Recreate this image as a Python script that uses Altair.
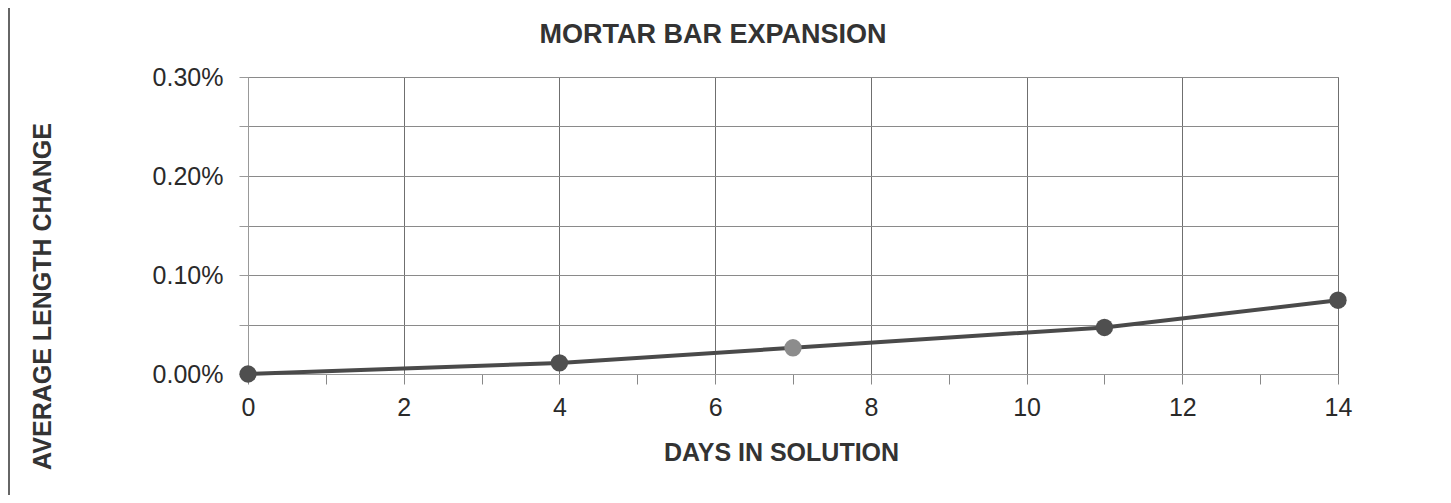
import altair as alt
import pandas as pd

days = [0, 4, 7, 11, 14]
expansion = [0.0, 0.000112, 0.000265, 0.00047, 0.000745]  # fraction (0.0745% = 0.000745)

x_ticks = list(range(0, 15))
y_ticks = [0.0, 0.0005, 0.001, 0.0015, 0.002, 0.0025, 0.003]

title_text = "MORTAR BAR EXPANSION"
x_title = "DAYS IN SOLUTION"
y_title = "AVERAGE LENGTH CHANGE"

df = pd.DataFrame({"day": days, "exp": expansion})
one = pd.DataFrame({"k": [0]})

FONT = "Liberation Sans"
W, H = 1090, 297

x_enc = alt.X(
    "day:Q",
    scale=alt.Scale(domain=[0, 14], nice=False, zero=False),
    axis=alt.Axis(
        values=x_ticks,
        format="d",
        labelExpr="datum.value % 2 == 0 ? datum.label : ''",
        title=x_title,
        titleFontSize=25,
        titleFontWeight="bold",
        titleColor="#333333",
        titleX=533,
        titleY=78,
        titleBaseline="middle",
        titleAlign="center",
        labelFontSize=25,
        labelColor="#2a2a2a",
        labelPadding=11,
        labelFlush=False,
        tickSize=10,
        tickColor="#888888",
        domainColor="#999999",
        grid=True,
        gridColor="#6f6f6f",
        gridOpacity={"condition": {"test": "datum.value % 2 == 1", "value": 0}, "value": 1},
    ),
)

y_enc = alt.Y(
    "exp:Q",
    scale=alt.Scale(domain=[0, 0.003], nice=False),
    axis=alt.Axis(
        values=y_ticks,
        format=".2%",
        labelExpr="round(datum.value * 10000) % 10 == 0 ? datum.label : ''",
        title=y_title,
        titleFontSize=25,
        titleFontWeight="bold",
        titleColor="#333333",
        titleAngle=270,
        titleX=-206,
        titleY=219,
        titleAlign="center",
        titleBaseline="middle",
        labelFontSize=25,
        labelColor="#2a2a2a",
        labelPadding=16,
        tickSize=9,
        tickColor="#999999",
        domainColor="#999999",
        grid=True,
        gridColor="#8a8a8a",
    ),
)

line = alt.Chart(df).mark_line(color="#4a4a4a", strokeWidth=4).encode(x=x_enc, y=y_enc)

points = alt.Chart(df).mark_circle(size=300, opacity=1).encode(
    x="day:Q",
    y="exp:Q",
    color=alt.condition(alt.datum.day == 7, alt.value("#8c8c8c"), alt.value("#4f4f4f")),
)

title_mark = alt.Chart(one).mark_text(
    text=title_text,
    font=FONT,
    fontSize=27,
    fontWeight="bold",
    color="#333333",
    align="center",
    baseline="middle",
).encode(x=alt.value(465), y=alt.value(-42))

border = alt.Chart(one).mark_rule(color="#666666", strokeWidth=2).encode(
    x=alt.value(-239), y=alt.value(-69), y2=alt.value(418)
)

chart = (
    alt.layer(line, points, title_mark, border)
    .properties(
        width=W,
        height=H,
        autosize=alt.AutoSizeParams(type="none"),
        padding={"left": 240, "top": 69, "right": 105, "bottom": 121},
        background="white",
    )
    .configure_view(stroke="#8a8a8a", strokeWidth=1)
    .configure_axis(labelFont=FONT, titleFont=FONT)
)

chart.save("out.html", embed_options={"renderer": "svg", "actions": False})
